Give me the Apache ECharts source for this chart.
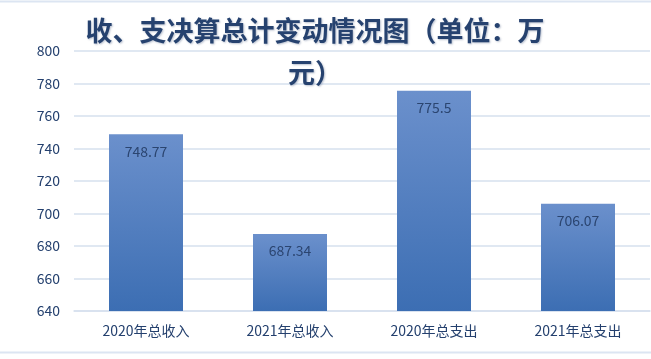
<!DOCTYPE html>
<html><head><meta charset="utf-8">
<script src="https://cdn.jsdelivr.net/npm/echarts@6/dist/echarts.min.js"></script>
<style>html,body{margin:0;padding:0;background:#fff}#c{width:651px;height:359px}</style>
</head><body><div id="c"></div>
<script>
const titleText = '收、支决算总计变动情况图（单位：万\n元）';
const categories = ['2020年总收入', '2021年总收入', '2020年总支出', '2021年总支出'];
const values = [748.77, 687.34, 775.5, 706.07];
const yTicks = { min: 640, max: 800, interval: 20 };

const chart = echarts.init(document.getElementById('c'));
const font = '"Noto Sans CJK SC", "Noto Sans", sans-serif';
chart.setOption({
  animation: false,
  backgroundColor: '#fff',
  title: {
    text: titleText,
    left: 310, top: 5, textAlign: 'center',
    textStyle: { fontFamily: font, fontSize: 27, fontWeight: 'bold', color: '#26426F', lineHeight: 42,
      textShadowColor: 'rgba(60,80,120,0.35)', textShadowBlur: 2, textShadowOffsetX: 1, textShadowOffsetY: 1 }
  },
  graphic: [
    { type: 'line', shape: { x1: 0, y1: 1.5, x2: 651, y2: 1.5 }, style: { stroke: '#DCE5F2', lineWidth: 2 } },
    { type: 'line', shape: { x1: 0, y1: 352.5, x2: 651, y2: 352.5 }, style: { stroke: '#DCE5F2', lineWidth: 2 } }
  ],
  grid: { left: 74, right: 1, top: 51, bottom: 48, containLabel: false },
  xAxis: {
    type: 'category', data: categories,
    axisLine: { lineStyle: { color: '#D6E0EE', width: 1.5 } },
    axisTick: { show: false },
    axisLabel: { fontFamily: font, fontSize: 14, color: '#24406E', margin: 13 }
  },
  yAxis: {
    type: 'value', min: yTicks.min, max: yTicks.max, interval: yTicks.interval,
    axisLine: { show: false }, axisTick: { show: false },
    axisLabel: { fontFamily: font, fontSize: 14, color: '#24406E', margin: 14 },
    splitLine: { lineStyle: { color: '#D6E0EE', width: 1.5 } }
  },
  series: [{
    type: 'bar', data: values, barWidth: 74,
    itemStyle: { color: new echarts.graphic.LinearGradient(0, 0, 0, 1, [
      { offset: 0, color: '#6B90CC' }, { offset: 1, color: '#3C6EB3' }
    ]) },
    label: { show: true, position: 'insideTop', distance: 10, fontFamily: font, fontSize: 14, color: '#2B4570' }
  }]
});
</script></body></html>
